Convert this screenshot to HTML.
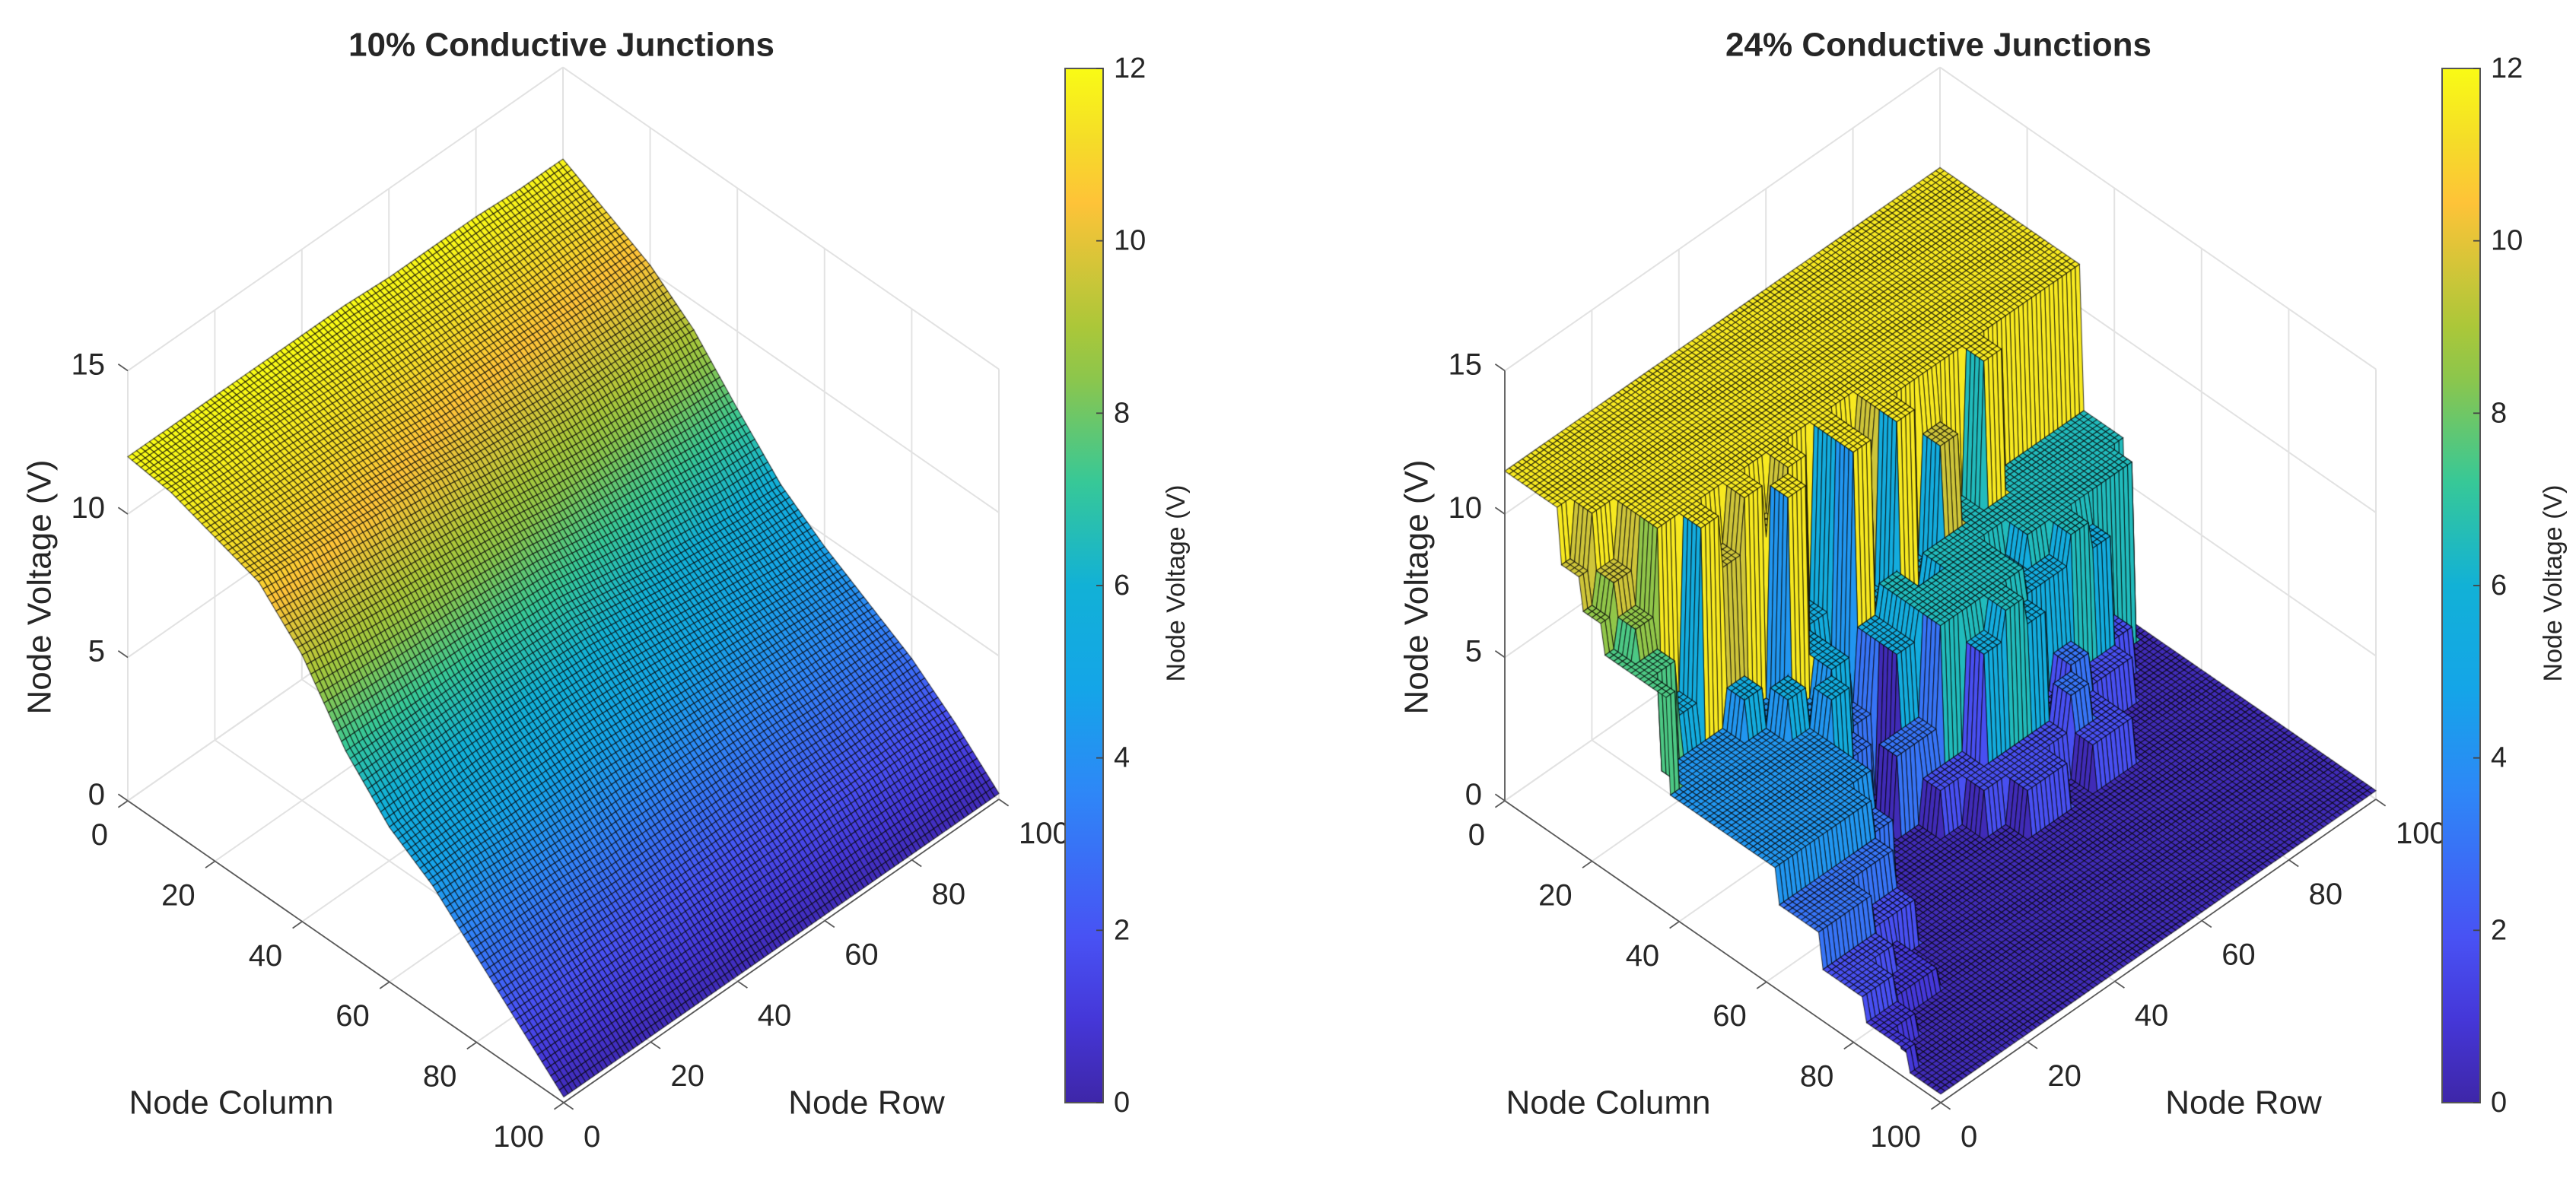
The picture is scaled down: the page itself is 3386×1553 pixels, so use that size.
<!DOCTYPE html>
<html>
<head>
<meta charset="utf-8">
<style>
html,body{margin:0;padding:0;background:#fff;}
#wrap{position:relative;width:3386px;height:1553px;overflow:hidden;background:#fff;}
svg,canvas{position:absolute;left:0;top:0;}
text{font-family:"Liberation Sans",Arial,sans-serif;fill:#262626;}
</style>
</head>
<body>
<div id="wrap">
<svg id="bg" width="3386" height="1553"></svg>
<canvas id="cv" width="3386" height="1553"></canvas>
<svg id="fg" width="3386" height="1553">
<defs>
<linearGradient id="parula" x1="0" y1="1" x2="0" y2="0">
<stop offset="0" stop-color="rgb(62,38,168)"/>
<stop offset="0.08" stop-color="rgb(69,55,216)"/>
<stop offset="0.16" stop-color="rgb(72,82,244)"/>
<stop offset="0.30" stop-color="rgb(46,135,247)"/>
<stop offset="0.40" stop-color="rgb(20,165,232)"/>
<stop offset="0.50" stop-color="rgb(18,177,214)"/>
<stop offset="0.60" stop-color="rgb(55,200,151)"/>
<stop offset="0.70" stop-color="rgb(140,198,76)"/>
<stop offset="0.75" stop-color="rgb(171,199,57)"/>
<stop offset="0.87" stop-color="rgb(254,195,56)"/>
<stop offset="0.93" stop-color="rgb(245,220,40)"/>
<stop offset="1" stop-color="rgb(249,251,21)"/>
</linearGradient>
</defs>
</svg>
</div>
<script>
// ---- data ----
const axisTicks = [0, 20, 40, 60, 80, 100];
const zTicks = [0, 5, 10, 15];
const cbTicks = [0, 2, 4, 6, 8, 10, 12];
const titles = ["10% Conductive Junctions", "24% Conductive Junctions"];
// Left plot: node voltage, rows = node row 0..100 step 10, columns = node column 0..100 step 10
const leftVoltage = [
 [12.0,11.8,11.3,10.8, 9.3, 7.0, 5.4, 4.4, 3.0, 1.6, 0.2],
 [12.0,11.7,11.2,10.6, 9.1, 7.0, 5.5, 4.4, 3.0, 1.6, 0.2],
 [12.0,11.7,11.1,10.4, 8.9, 7.0, 5.6, 4.3, 3.0, 1.6, 0.2],
 [12.0,11.6,11.0,10.2, 8.7, 7.0, 5.6, 4.3, 2.9, 1.6, 0.2],
 [12.0,11.5,10.8,10.0, 8.5, 6.9, 5.6, 4.3, 2.9, 1.6, 0.2],
 [12.0,11.4,10.6, 9.7, 8.3, 6.8, 5.5, 4.2, 2.9, 1.6, 0.2],
 [11.9,11.3,10.5, 9.5, 8.0, 6.5, 5.3, 4.1, 2.9, 1.6, 0.2],
 [11.9,11.2,10.4, 9.3, 7.8, 6.2, 5.1, 4.0, 2.9, 1.7, 0.2],
 [11.9,11.1,10.3, 9.2, 7.6, 6.0, 4.9, 3.9, 2.8, 1.7, 0.2],
 [11.8,11.1,10.2, 9.1, 7.4, 5.8, 4.7, 3.8, 2.8, 1.7, 0.2],
 [11.8,11.0,10.2, 9.0, 7.3, 5.7, 4.6, 3.7, 2.8, 1.6, 0.2]
];
// Right plot: voltage level codes, one string per node column (0..100 step 5), chars = node row 0..100 step 5
const rightLevelCodes = ["Y","O","o","G","T","t","B","b","P","p","D"];
const rightLevelVolts = [11.5, 9.6, 8.5, 7.5, 6.5, 5.5, 4.2, 3.0, 1.8, 1.0, 0.3];
const rightMap = [
 "YYYYYYYYYYYYYYYYYYYYY",
 "YYYYYYYYYYYYYYYYYYYYY",
 "YYYYYYYYYYYYYYYYYYYYY",
 "OYYYYYYYYYYYYYYYYYYYY",
 "oOYYYYYYYYYYYYYYYYYYY",
 "GoYYYYYYYYYYYYYYYYYYY",
 "GGtYOYOYtYOYYYYYYYYYY",
 "GBBBtBYtBYtYtOTYTTTTT",
 "BBBBBtBtbtTtTTTTTTTTT",
 "BBBBBBtbDtTTTTtTTTTTD",
 "BBBBBBbDbbTTTTttTtPDD",
 "BBBBBBDDDPPtTtPbPPDDD",
 "BBBBBbDDDDPPPPbPDDDDD",
 "bbbbbDDDDDDPPDPPDDDDD",
 "bbbPPDDDDDDDDDDDDDDDD",
 "PPPpDDDDDDDDDDDDDDDDD",
 "PPppDDDDDDDDDDDDDDDDD",
 "ppDDDDDDDDDDDDDDDDDDD",
 "pDDDDDDDDDDDDDDDDDDDD",
 "DDDDDDDDDDDDDDDDDDDDD",
 "DDDDDDDDDDDDDDDDDDDDD"
];

// ---- geometry ----
const G = {lx:168, ly:1053, cx:5.73, cy:3.97, rx:5.72, ry:-3.99, zs:37.7, zmax:15, vmax:12};
const offsets = [0, 1810];
function proj(ox, c, r, v){ return [ox + G.lx + G.cx*c + G.rx*r, G.ly + G.cy*c + G.ry*r - G.zs*v]; }

const parulaStops = [[0,62,38,168],[0.08,69,55,216],[0.16,72,82,244],[0.30,46,135,247],[0.40,20,165,232],[0.50,18,177,214],[0.60,55,200,151],[0.70,140,198,76],[0.75,171,199,57],[0.87,254,195,56],[0.93,245,220,40],[1,249,251,21]];
function parula(t){
  t=Math.max(0,Math.min(1,t));
  for(let k=1;k<parulaStops.length;k++){
    const a=parulaStops[k-1], b=parulaStops[k];
    if(t<=b[0]){const f=(t-a[0])/(b[0]-a[0]);
      return `rgb(${Math.round(a[1]+f*(b[1]-a[1]))},${Math.round(a[2]+f*(b[2]-a[2]))},${Math.round(a[3]+f*(b[3]-a[3]))})`;}
  }
  return "rgb(249,251,21)";
}
function leftV(c,r){
  const x=c/10, y=r/10, i=Math.min(9,Math.floor(x)), j=Math.min(9,Math.floor(y));
  const fx=x-i, fy=y-j;
  const a=leftVoltage[j][i], b=leftVoltage[j][i+1], d=leftVoltage[j+1][i], e=leftVoltage[j+1][i+1];
  return (a*(1-fx)+b*fx)*(1-fy)+(d*(1-fx)+e*fx)*fy;
}
function rightV(c,r){
  const ch=rightMap[Math.round(c/5)][Math.round(r/5)];
  return rightLevelVolts[rightLevelCodes.indexOf(ch)];
}

// ---- SVG helpers ----
const NS="http://www.w3.org/2000/svg";
function mk(parent, tag, attrs){
  const el=document.createElementNS(NS,tag);
  for(const k in attrs) el.setAttribute(k, attrs[k]);
  parent.appendChild(el); return el;
}
const bg=document.getElementById('bg'), fg=document.getElementById('fg');

offsets.forEach((ox, p)=>{
  const gridStyle={stroke:"#e2e2e2","stroke-width":2};
  const gl=[];
  axisTicks.forEach(t=>{
    gl.push([proj(ox,0,t,0),proj(ox,0,t,G.zmax)]);
    gl.push([proj(ox,t,100,0),proj(ox,t,100,G.zmax)]);
    gl.push([proj(ox,t,0,0),proj(ox,t,100,0)]);
    gl.push([proj(ox,0,t,0),proj(ox,100,t,0)]);
  });
  zTicks.forEach(z=>{
    gl.push([proj(ox,0,0,z),proj(ox,0,100,z)]);
    gl.push([proj(ox,0,100,z),proj(ox,100,100,z)]);
  });
  gl.forEach(s=>{
    const l=mk(bg,'line',Object.assign({x1:s[0][0],y1:s[0][1],x2:s[1][0],y2:s[1][1]},gridStyle));
    
    
  });

  const ax=[[proj(ox,0,0,0),proj(ox,100,0,0),'node-column-axis'],[proj(ox,100,0,0),proj(ox,100,100,0),'node-row-axis']];
  if(p===1) ax.push([proj(ox,0,0,0),proj(ox,0,0,G.zmax),'voltage-axis']);
  ax.forEach(s=>{
    const l=mk(fg,'line',{x1:s[0][0],y1:s[0][1],x2:s[1][0],y2:s[1][1],stroke:"#5a5a5a","stroke-width":1.8});
    
    
  });

  axisTicks.forEach(t=>{
    const q=proj(ox,t,0,0);
    const l=mk(fg,'line',{x1:q[0],y1:q[1],x2:q[0]-G.rx*2.2,y2:q[1]-G.ry*2.2,stroke:"#5a5a5a","stroke-width":1.8});
    
    
    const tx=mk(fg,'text',{x:q[0]-26,y:q[1]+45,"text-anchor":"end","dominant-baseline":"central","font-size":40});
    tx.textContent=t;
    
    
  });
  axisTicks.forEach(t=>{
    const q=proj(ox,100,t,0);
    const l=mk(fg,'line',{x1:q[0],y1:q[1],x2:q[0]+G.cx*2.2,y2:q[1]+G.cy*2.2,stroke:"#5a5a5a","stroke-width":1.8});
    
    
    const tx=mk(fg,'text',{x:q[0]+26,y:q[1]+45,"text-anchor":"start","dominant-baseline":"central","font-size":40});
    tx.textContent=t;
    
    
  });
  zTicks.forEach(z=>{
    const q=proj(ox,0,0,z);
    const l=mk(fg,'line',{x1:q[0],y1:q[1],x2:q[0]-G.cx*2.2,y2:q[1]-G.cy*2.2,stroke:"#5a5a5a","stroke-width":1.8});
    
    
    const tx=mk(fg,'text',{x:q[0]-30,y:q[1]-8,"text-anchor":"end","dominant-baseline":"central","font-size":40});
    tx.textContent=z;
    
    
  });

  const top=proj(ox,0,100,G.zmax);
  const tt=mk(fg,'text',{x:top[0]-2,y:59,"text-anchor":"middle","dominant-baseline":"central","font-size":44,"font-weight":"bold"});
  tt.textContent=titles[p];
  
  
  const xl=mk(fg,'text',{x:ox+304,y:1450,"text-anchor":"middle","dominant-baseline":"central","font-size":44});
  xl.textContent="Node Column";
  
  
  const yl=mk(fg,'text',{x:ox+1139,y:1450,"text-anchor":"middle","dominant-baseline":"central","font-size":44});
  yl.textContent="Node Row";
  
  
  const zl=mk(fg,'text',{x:0,y:0,"text-anchor":"middle","dominant-baseline":"central","font-size":44,transform:`translate(${ox+52},772) rotate(-90)`});
  zl.textContent="Node Voltage (V)";
  
  

  const cbx=ox+1400, cbTop=90, cbBot=1450, cbW=50;
  const cb=mk(fg,'rect',{x:cbx,y:cbTop,width:cbW,height:cbBot-cbTop,fill:"url(#parula)",stroke:"#555","stroke-width":2});
  
  
  cbTicks.forEach(v=>{
    const y=cbBot-(v/G.vmax)*(cbBot-cbTop);
    const l=mk(fg,'line',{x1:cbx+cbW-9,y1:y,x2:cbx+cbW,y2:y,stroke:"#444","stroke-width":1.8});
    
    
    const tx=mk(fg,'text',{x:cbx+cbW+14,y:y,"text-anchor":"start","dominant-baseline":"central","font-size":38});
    tx.textContent=v;
    
    
  });
  const cl=mk(fg,'text',{x:0,y:0,"text-anchor":"middle","dominant-baseline":"central","font-size":34,transform:`translate(${ox+1546},767) rotate(-90)`});
  cl.textContent="Node Voltage (V)";
  
  
});

// ---- surfaces ----
const ctx=document.getElementById('cv').getContext('2d');
function drawSurface(ox, fn, N){
  const Z=[];
  for(let i=0;i<=N;i++){Z.push([]);for(let j=0;j<=N;j++)Z[i].push(fn(i*100/N,j*100/N));}
  const quads=[];
  for(let i=0;i<N;i++)for(let j=0;j<N;j++)quads.push([i,j]);
  quads.sort((a,b)=>(a[0]-a[1])-(b[0]-b[1]));
  ctx.lineWidth=1.1;
  ctx.strokeStyle="rgba(0,0,0,0.72)";
  quads.forEach(([i,j])=>{
    const s=100/N;
    const p1=proj(ox,i*s,j*s,Z[i][j]), p2=proj(ox,(i+1)*s,j*s,Z[i+1][j]),
          p3=proj(ox,(i+1)*s,(j+1)*s,Z[i+1][j+1]), p4=proj(ox,i*s,(j+1)*s,Z[i][j+1]);
    ctx.beginPath();
    ctx.moveTo(p1[0],p1[1]);ctx.lineTo(p2[0],p2[1]);ctx.lineTo(p3[0],p3[1]);ctx.lineTo(p4[0],p4[1]);ctx.closePath();
    ctx.fillStyle=parula(Z[i][j]/G.vmax);
    ctx.fill();ctx.stroke();
  });
}
drawSurface(offsets[0], leftV, 100);
drawSurface(offsets[1], rightV, 100);
</script>
</body>
</html>
